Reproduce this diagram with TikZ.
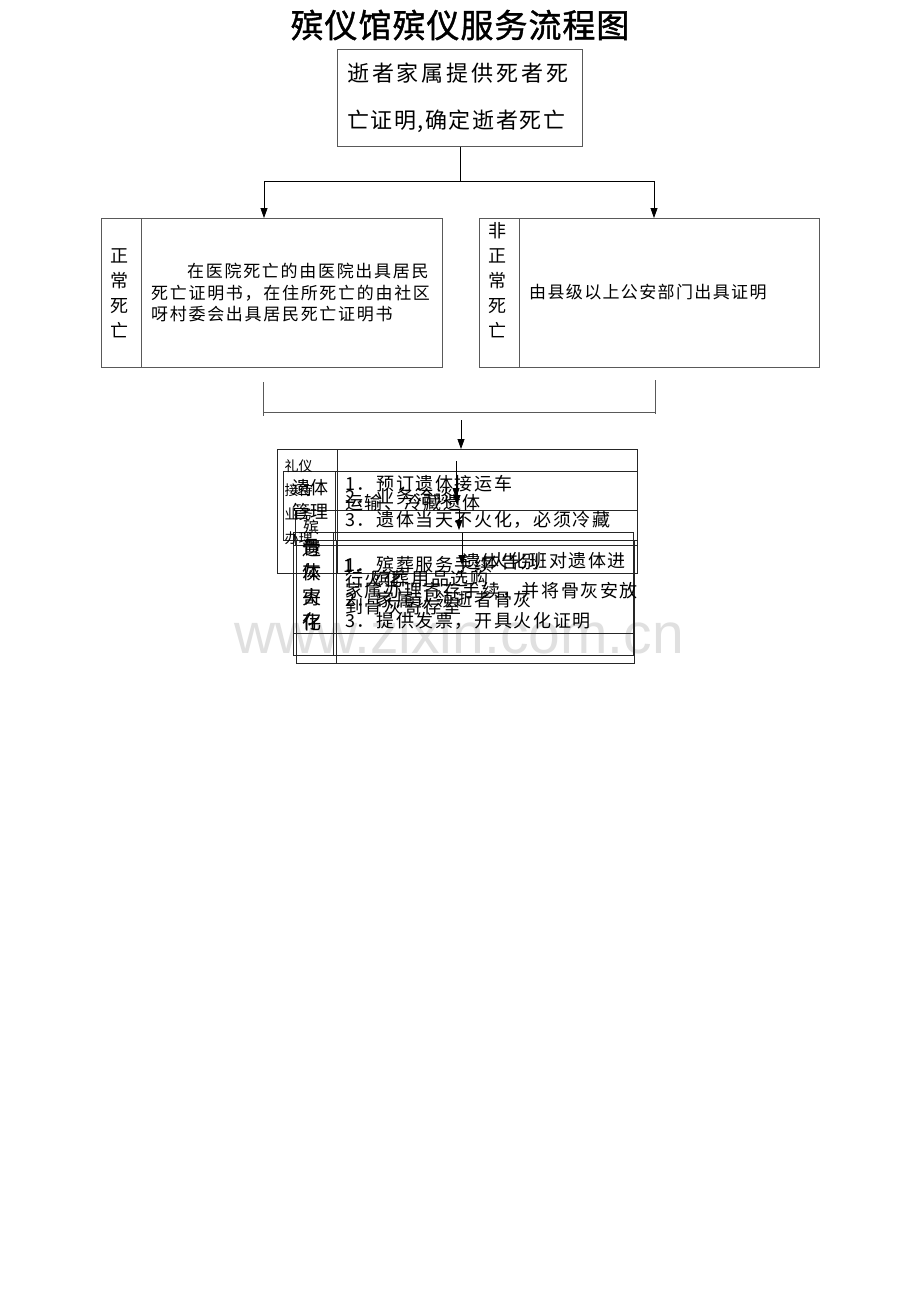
\documentclass[tikz,border=0pt]{standalone}
\usepackage{fontspec}
\usetikzlibrary{arrows.meta}
\newfontfamily\cjk{Noto Sans CJK SC}
\newfontfamily\cjkA[LetterSpace=3,FakeBold=1.2]{Noto Sans CJK SC}
\newfontfamily\cjkB[LetterSpace=13]{Noto Sans CJK SC}
\newfontfamily\cjkBB[LetterSpace=7]{Noto Sans CJK SC}
\newfontfamily\cjkC[LetterSpace=10]{Noto Sans CJK SC}
\newfontfamily\cjkCC[LetterSpace=8]{Noto Sans CJK SC}
\newfontfamily\cjkD[LetterSpace=9]{Noto Sans CJK SC}
\newfontfamily\wmfont{Liberation Sans}
\tikzset{
 frame/.style={draw=black!65, line width=0.8pt, inner sep=0pt, anchor=north west},
 lframe/.style={draw=black!85, line width=0.8pt, inner sep=0pt, anchor=north west},
 wire/.style={draw=black, line width=0.8pt},
 arr/.style={wire, -{Triangle[length=10pt,width=7pt]}},
 ttl/.style={font=\fontsize{33}{33}\selectfont\cjkA, inner sep=0pt},
 bigtxt/.style={anchor=west, inner sep=0pt, font=\fontsize{22}{22}\selectfont\cjkB},
 bigtxtb/.style={anchor=west, inner sep=0pt, font=\fontsize{22}{22}\selectfont\cjkBB},
 midtxt/.style={anchor=west, inner sep=0pt, font=\fontsize{17}{17}\selectfont\cjkC},
 midtxtb/.style={anchor=west, inner sep=0pt, font=\fontsize{17}{17}\selectfont\cjkCC},
 smtxt/.style={anchor=west, inner sep=0pt, font=\fontsize{18}{18}\selectfont\cjkD},
 vlab/.style={align=center, inner sep=0pt, font=\fontsize{18}{25}\selectfont\cjk},
 wmark/.style={inner sep=0pt, font=\fontsize{57}{57}\selectfont\wmfont, text=black!12},
}
\begin{document}
\begin{tikzpicture}[x=1pt,y=-1pt]
\useasboundingbox[fill=white] (0,0) rectangle (920,1302);
\node[wmark] (wm) at (459,633) {www.zixin.com.cn};
% title
\node[ttl] (title) at (460,25) {殡仪馆殡仪服务流程图};
% top box
\node[frame, minimum width=245pt, minimum height=97pt] (top) at (337,49) {};
\node[bigtxt] (t1) at (347,73) {逝者家属提供死者死};
\node[bigtxtb] (t2) at (347,121) {亡证明,确定逝者死亡};
% connectors from top
\coordinate (j0) at (459,181);
\coordinate (jl) at (264,181);
\coordinate (jr) at (654,181);
\draw[wire] (top.south) -- (top.south |- j0);
\draw[wire] (jl) -- (jr);
% left and right boxes
\node[frame, minimum width=341pt, minimum height=149pt] (L) at (101,218) {};
\node[frame, minimum width=340pt, minimum height=149pt] (R) at (479,218) {};
\draw[frame] ([xshift=40pt]L.north west) -- ([xshift=40pt]L.south west);
\draw[frame] ([xshift=40pt]R.north west) -- ([xshift=40pt]R.south west);
\draw[arr] (jl) -- (jl |- L.north);
\draw[arr] (jr) -- (jr |- R.north);
\node[vlab] (Llab) at (119,293.5) {正\\常\\死\\亡};
\node[vlab] (Rlab) at (497,280.5) {非\\正\\常\\死\\亡};
\node[midtxt] (l1) at (187,271) {在医院死亡的由医院出具居民};
\node[midtxt] (l2) at (151,293) {死亡证明书，在住所死亡的由社区};
\node[midtxt] (l3) at (151,314) {呀村委会出具居民死亡证明书};
\node[midtxtb] (r1) at (529,292) {由县级以上公安部门出具证明};
% bracket
\coordinate (b1) at (263,382);
\coordinate (b2) at (263,416);
\coordinate (b3) at (655,380);
\coordinate (b4) at (655,414);
\coordinate (h1) at (263,412);
\coordinate (h2) at (655,412);
\draw[frame] (b1) -- (b2);
\draw[frame] (b3) -- (b4);
\draw[frame] (h1) -- (h2);
\coordinate (m) at (461,420);
% lower stacked boxes
\node[lframe, minimum width=360pt, minimum height=124pt] (B1) at (277,449) {};
\draw[lframe] ([xshift=60pt]B1.north west) -- ([xshift=60pt]B1.south west);
\node[lframe, minimum width=354pt, minimum height=69pt] (B2) at (283,471) {};
\draw[lframe] ([xshift=52pt]B2.north west) -- ([xshift=52pt]B2.south west);
\node[lframe, minimum width=342pt, minimum height=35pt] (B3) at (295,510) {};
\node[lframe, minimum width=340pt, minimum height=123pt] (B4) at (293,532) {};
\draw[lframe] ([xshift=40pt]B4.north west) -- ([xshift=40pt]B4.south west);
\coordinate (c1) at (293,545);
\coordinate (c2) at (633,545);
\coordinate (c3) at (293,633);
\coordinate (c4) at (633,633);
\draw[lframe] (c1) -- (c2);
\draw[lframe] (c3) -- (c4);
\node[lframe, minimum width=338pt, minimum height=123pt] (B5) at (296,540) {};
\draw[lframe] ([xshift=40pt]B5.north west) -- ([xshift=40pt]B5.south west);
\draw[arr] (m) -- (m |- B1.north);
\coordinate (a1s) at (456,461);
\coordinate (a1e) at (456,498);
\coordinate (a2s) at (457,476);
\coordinate (a2e) at (457,505);
\coordinate (a3s) at (459,510);
\coordinate (a3e) at (459,530);
\coordinate (a4s) at (462,533);
\coordinate (a4e) at (462,565);
\draw[arr] (a1s) -- (a1e);
\draw[arr] (a2s) -- (a2e);
\draw[arr] (a3s) -- (a3e);
\draw[arr] (a4s) -- (a4e);
% labels
\node[align=center, inner sep=0pt, font=\fontsize{14}{24}\selectfont\cjk] (lab1) at (298.5,502) {礼仪\\接待\\业务\\办理};
\node[align=center, inner sep=0pt, font=\fontsize{18}{24}\selectfont\cjk] (lab2) at (310,500) {遗体\\管理};
\node[inner sep=0pt, font=\fontsize{16}{16}\selectfont\cjk] (lab3) at (311,527) {殡};
\node[align=center, inner sep=0pt, font=\fontsize{19}{24.7}\selectfont\cjk] (lab4) at (312,585) {遗\\体\\火\\化};
\node[align=center, inner sep=0pt, font=\fontsize{19}{24.7}\selectfont\cjk] (lab5) at (312,585) {骨\\灰\\寄\\存};
% contents
\node[smtxt] (s1) at (345,484) {1．预订遗体接运车};
\node[smtxt] (s2) at (345,497) {2．业务洽谈};
\node[smtxt] (s3) at (345,503) {运输、冷藏遗体};
\node[smtxt] (s4) at (345,520) {3．遗体当天不火化，必须冷藏};
\node[smtxt] (s5) at (345,565) {1．殡葬服务手续};
\node[smtxt] (s5b) at (343,566) {1．};
\node[smtxt] (s6) at (462,562) {遗体告别};
\node[smtxt] (s7) at (490,561) {火化班对遗体进};
\node[smtxt] (s8) at (345,580) {行火化};
\node[smtxt] (s9) at (372,579) {殡葬用品选购};
\node[smtxt] (s10) at (345,591) {家属办理寄存手续，并将骨灰安放};
\node[smtxt] (s11) at (345,600) {2．家属认领逝者骨灰};
\node[smtxt] (s12) at (345,607) {到骨灰寄存室};
\node[smtxt] (s13) at (345,621) {3．提供发票，开具火化证明};
\end{tikzpicture}
\end{document}
